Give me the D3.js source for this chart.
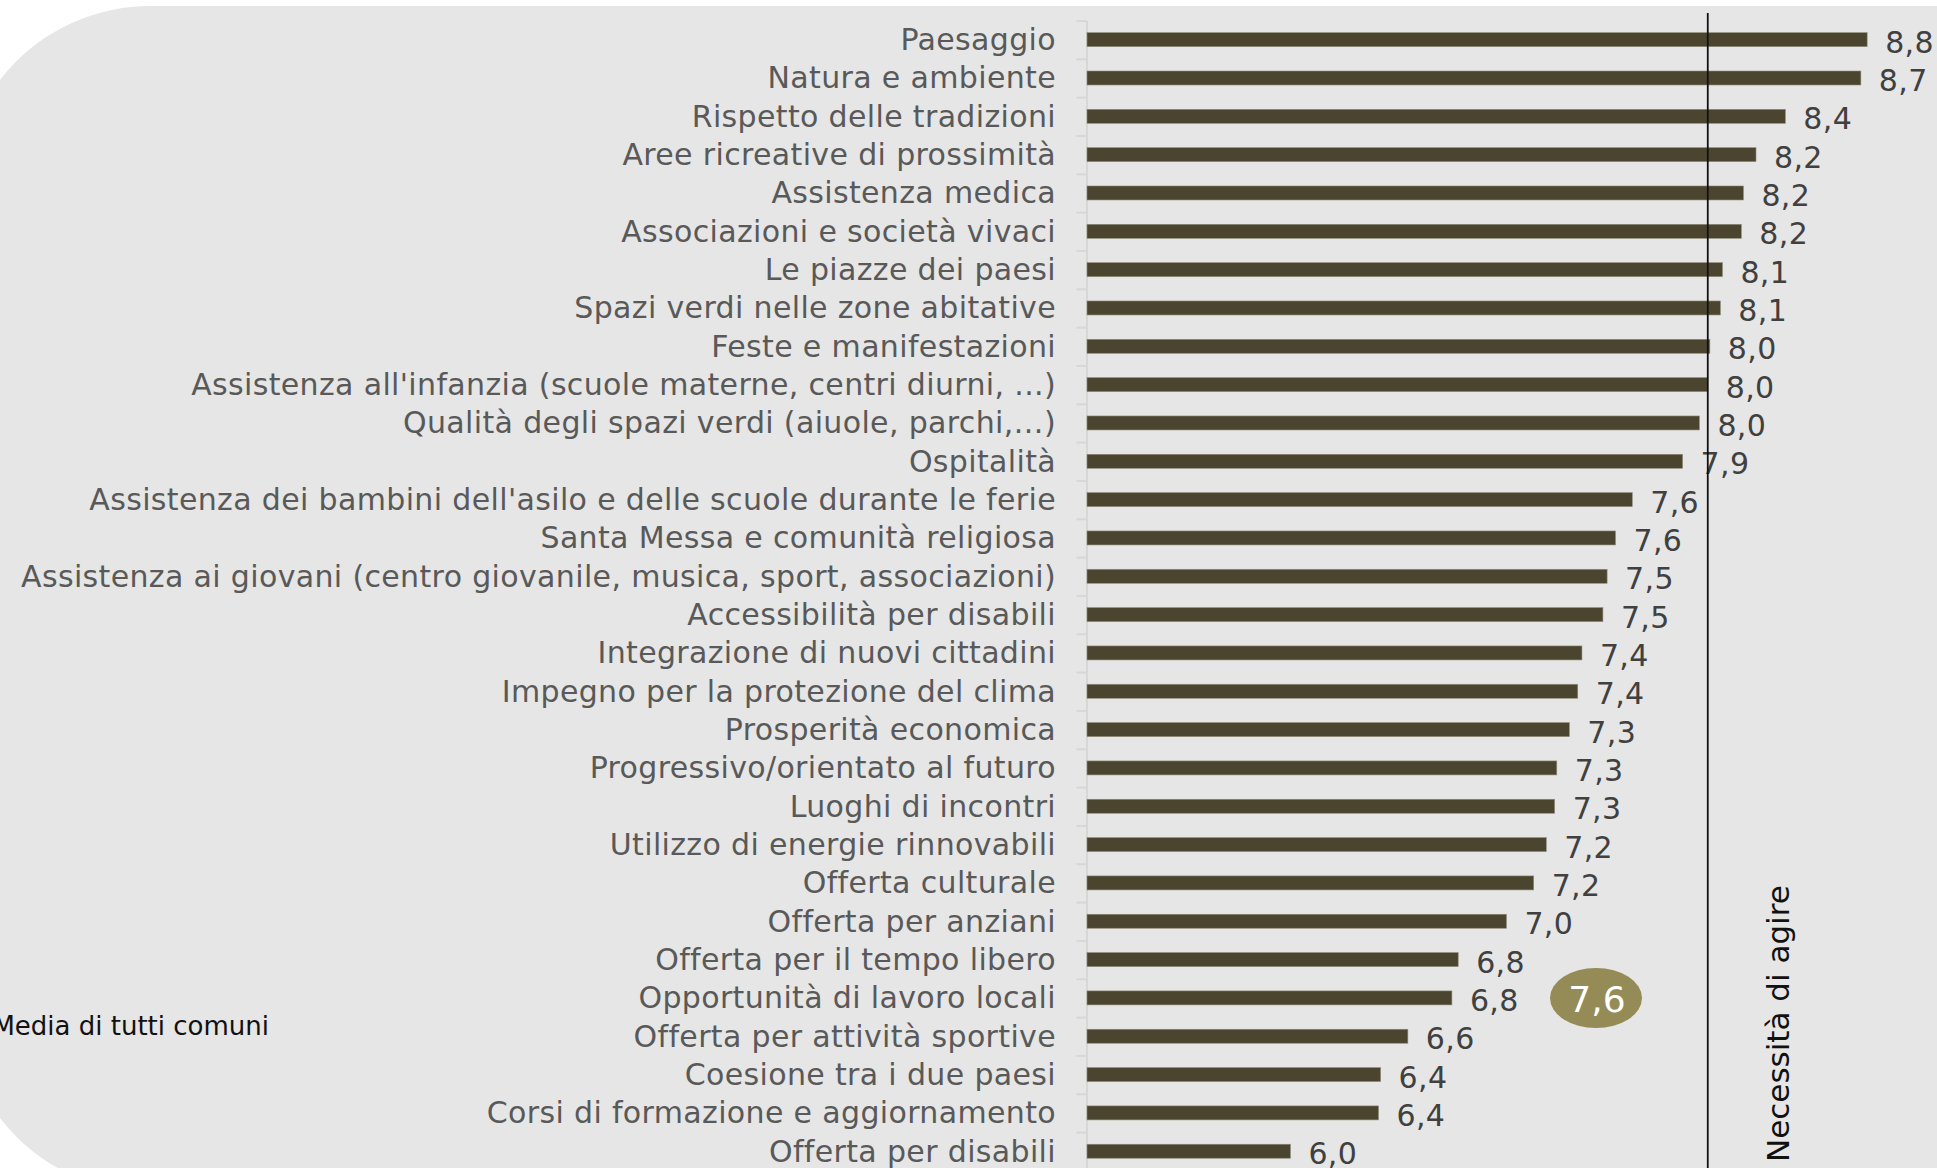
<!DOCTYPE html>
<html>
<head>
<meta charset="utf-8">
<script src="https://cdn.jsdelivr.net/npm/d3@7"></script>
<style>
  html, body { margin: 0; padding: 0; background: #ffffff; }
  svg { display: block; }
  text { font-family: Verdana, "DejaVu Sans", sans-serif; }
</style>
</head>
<body>
<svg id="chart" width="1937" height="1168"></svg>
<script>
const categories = [
  "Paesaggio",
  "Natura e ambiente",
  "Rispetto delle tradizioni",
  "Aree ricreative di prossimità",
  "Assistenza medica",
  "Associazioni e società vivaci",
  "Le piazze dei paesi",
  "Spazi verdi nelle zone abitative",
  "Feste e manifestazioni",
  "Assistenza all'infanzia (scuole materne, centri diurni, ...)",
  "Qualità degli spazi verdi (aiuole, parchi,…)",
  "Ospitalità",
  "Assistenza dei bambini dell'asilo e delle scuole durante le ferie",
  "Santa Messa e comunità religiosa",
  "Assistenza ai giovani (centro giovanile, musica, sport, associazioni)",
  "Accessibilità per disabili",
  "Integrazione di nuovi cittadini",
  "Impegno per la protezione del clima",
  "Prosperità economica",
  "Progressivo/orientato al futuro",
  "Luoghi di incontri",
  "Utilizzo di energie rinnovabili",
  "Offerta culturale",
  "Offerta per anziani",
  "Offerta per il tempo libero",
  "Opportunità di lavoro locali",
  "Offerta per attività sportive",
  "Coesione tra i due paesi",
  "Corsi di formazione e aggiornamento",
  "Offerta per disabili"
];
const values = [
  8.76, 8.73, 8.37, 8.23, 8.17, 8.16, 8.07, 8.06, 8.01, 8.00,
  7.96, 7.88, 7.64, 7.56, 7.52, 7.50, 7.40, 7.38, 7.34, 7.28,
  7.27, 7.23, 7.17, 7.04, 6.81, 6.78, 6.57, 6.44, 6.43, 6.01
];
const xDomain = [5.04, 8.95];
const thresholdValue = 8.0;
const thresholdLabel = "Necessità di agire";
const averageValue = 7.6;
const averageLabel = "Media di tutti comuni";

const fmt = v => d3.format(".1f")(v).replace(".", ",");

const svg = d3.select("#chart");

// background panel with rounded left corners
svg.append("rect")
  .attr("x", -39).attr("y", 6)
  .attr("width", 2200).attr("height", 1186)
  .attr("rx", 189).attr("ry", 189)
  .attr("fill", "#e5e6e5");

const axisX = 1087;
const x = d3.scaleLinear().domain(xDomain).range([axisX, 1907]);
const plotTop = 20.5, rowStep = 38.33;
const y = d3.scaleBand()
  .domain(categories)
  .range([plotTop, plotTop + categories.length * rowStep])
  .paddingInner(0.635)
  .paddingOuter(0.3175);
const yEdge = d3.scaleLinear().domain([0, categories.length]).range([plotTop, plotTop + categories.length * rowStep]);

// category axis with ticks at band boundaries
const axis = svg.append("g")
  .attr("transform", `translate(${axisX - 0.5},0)`)
  .call(d3.axisLeft(yEdge).tickValues(d3.range(0, categories.length + 1)).tickSize(10).tickSizeOuter(0).tickFormat(""));
axis.select(".domain").attr("stroke", "#d6d7d6").attr("stroke-width", 2);
axis.selectAll(".tick line").attr("stroke", "#d6d7d6").attr("stroke-width", 2);

const data = categories.map((c, i) => ({ c, v: values[i] }));

// category labels
svg.append("g").selectAll("text")
  .data(data).join("text")
  .attr("x", 1056)
  .attr("y", d => y(d.c) + y.bandwidth() / 2 + 10.5)
  .attr("text-anchor", "end")
  .attr("font-size", 30)
  .attr("letter-spacing", 0.35)
  .attr("fill", "#595959")
  .text(d => d.c);

// bars
svg.append("g").selectAll("rect")
  .data(data).join("rect")
  .attr("x", x(xDomain[0]))
  .attr("y", d => y(d.c))
  .attr("width", d => x(d.v) - x(xDomain[0]))
  .attr("height", y.bandwidth())
  .attr("fill", "#4b4530")
  .attr("stroke", "#8f8b78")
  .attr("stroke-width", 0.6);

// value labels
svg.append("g").selectAll("text")
  .data(data).join("text")
  .attr("x", d => x(d.v) + 18)
  .attr("y", d => y(d.c) + y.bandwidth() / 2 + 13)
  .attr("font-size", 30)
  .attr("letter-spacing", 0.35)
  .attr("fill", "#404040")
  .text(d => fmt(d.v));

// threshold line
svg.append("line")
  .attr("x1", x(thresholdValue)).attr("x2", x(thresholdValue))
  .attr("y1", 13).attr("y2", 1168)
  .attr("stroke", "#111").attr("stroke-width", 1.8);

svg.append("text")
  .attr("transform", `translate(1789,1162) rotate(-90)`)
  .attr("font-size", 31)
  .attr("fill", "#111")
  .text(thresholdLabel);

// average bubble
svg.append("ellipse")
  .attr("cx", 1596).attr("cy", 998)
  .attr("rx", 46).attr("ry", 30)
  .attr("fill", "#958b56");
svg.append("text")
  .attr("x", 1597).attr("y", 1012)
  .attr("text-anchor", "middle")
  .attr("font-size", 36)
  .attr("fill", "#ffffff")
  .text(fmt(averageValue));

svg.append("text")
  .attr("x", 269).attr("y", 1035)
  .attr("text-anchor", "end")
  .attr("font-size", 26)
  .attr("fill", "#111")
  .text(averageLabel);
</script>
</body>
</html>
